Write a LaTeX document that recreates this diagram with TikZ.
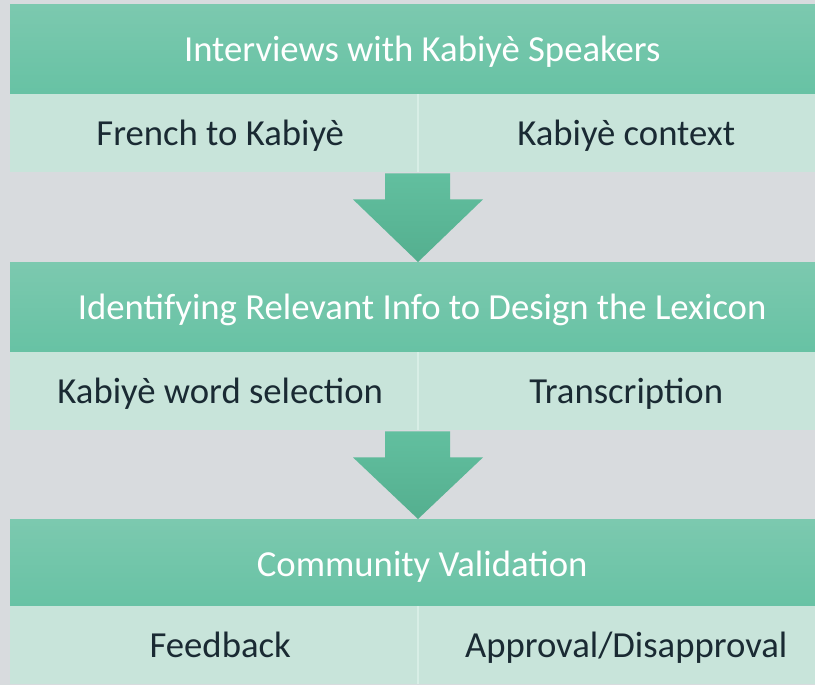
\documentclass[tikz,border=0pt]{standalone}
\usepackage{fontspec}
\setmainfont{Carlito}
\usetikzlibrary{positioning}
\usetikzlibrary{calc}
\definecolor{bggray}{HTML}{D8DBDE}
\definecolor{headtop}{HTML}{7CC9AF}
\definecolor{headbot}{HTML}{67C2A4}
\definecolor{cellfill}{HTML}{C8E4DA}
\definecolor{cellline}{HTML}{D8EEE6}
\definecolor{arrowtop}{HTML}{62BF9F}
\definecolor{arrowbot}{HTML}{54AF8F}
\definecolor{celltext}{HTML}{1A2A33}
\tikzstyle{header}=[rectangle,anchor=north west,inner sep=0pt,minimum width=824pt,minimum height=90pt,text height=30pt,text depth=6pt,top color=headtop,bottom color=headbot,text=white,font=\fontsize{36.7}{40}\selectfont]
\tikzstyle{cell}=[rectangle,anchor=north west,inner sep=0pt,minimum height=78pt,text height=30pt,text depth=6pt,fill=cellfill,text=celltext,font=\fontsize{36.7}{40}\selectfont]
\tikzstyle{blockarrow}=[top color=arrowtop,bottom color=arrowbot]
\tikzstyle{divider}=[draw=cellline,line width=1.5pt]

\begin{document}
\begin{tikzpicture}[x=1pt,y=-1pt]
    \useasboundingbox (0,0) rectangle (815,685);
    \fill[bggray] (0,0) rectangle (815,685);
    \clip (0,0) rectangle (815,685);

    \foreach \pos/\name/\label in {{(10,4)/head1/Interviews with Kabiyè Speakers}, {(10,262)/head2/Identifying Relevant Info to Design the Lexicon}, {(10,519)/head3/Community Validation}}
        \node[header] (\name) at \pos {\label};

    \foreach \pos/\name/\label in {{(10,94)/sub1l/French to Kabiyè}, {(10,352)/sub2l/Kabiyè word selection}, {(10,606)/sub3l/Feedback}}
        \node[cell,minimum width=420pt] (\name) at \pos {\label};

    \foreach \pos/\name/\label in {{(418,94)/sub1r/Kabiyè context}, {(418,352)/sub2r/Transcription}, {(418,606)/sub3r/{Approval/Disapproval}}}
        \node[cell,minimum width=416pt] (\name) at \pos {\label};

    \foreach \name in {sub1r, sub2r, sub3r}
        \path[divider] (\name.north west) -- (\name.south west);

    % block arrows between the stages
    \foreach \source/\dest in {sub1r/head2, sub2r/head3}{
        \coordinate (h) at ($(\source.south west)+(0,27)$);
        \shade[blockarrow] ($(\source.south west)+(-33,1)$) -- ($(\source.south west)+(32,1)$) -- ($(h)+(32,0)$) -- ($(h)+(65,0)$) -- (\source.south west |- \dest.north) -- ($(h)+(-65,0)$) -- ($(h)+(-33,0)$) -- cycle;
    }

\end{tikzpicture}
\end{document}
